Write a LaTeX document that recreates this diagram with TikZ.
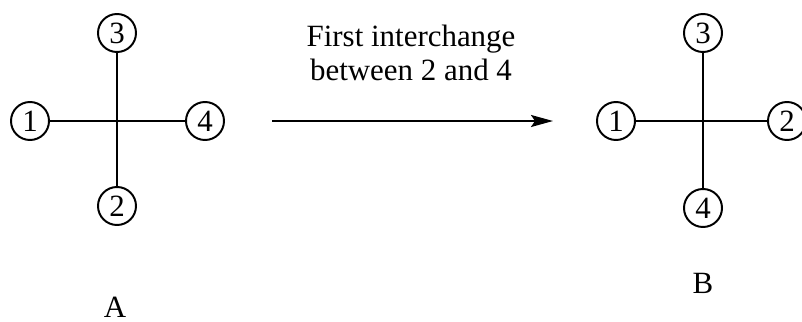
\documentclass[tikz,border=0pt]{standalone}
\usepackage{fontspec}
\setmainfont{Liberation Serif}
\usetikzlibrary{arrows.meta,positioning}

\begin{document}
\begin{tikzpicture}[
  x=0.025cm,y=-0.025cm,
  site/.style={draw,circle,line width=1.4pt,minimum size=0.95cm,inner sep=0pt,font=\fontsize{22}{25}\selectfont},
  bond/.style={line width=1.4pt},
  caption/.style={inner sep=0pt,font=\fontsize{22}{25}\selectfont}
]
\useasboundingbox (0,0) rectangle (802,322);
% configuration A
\node[site] (a3) at (117,33) {3};
\node[site] (a1) at (30,121) {1};
\node[site] (a4) at (205,121) {4};
\node[site] (a2) at (117,206) {2};
\draw[bond] (a1) -- (a4);
\draw[bond] (a3) -- (a2);
\node[caption,anchor=base] (labA) at (115,317) {A};
% interchange arrow
\coordinate (from) at (272,121);
\coordinate (to) at (553,121);
\draw[bond,-{Stealth[length=0.55cm,width=0.3cm,inset=0.1cm]}] (from) -- (to);
\node[caption,anchor=north,align=center] (swap) at (411,24.5) {First interchange\\[-0.5pt]between 2 and 4};
% configuration B
\node[site] (b3) at (703,33) {3};
\node[site] (b1) at (616,121) {1};
\node[site] (b2) at (787,121) {2};
\node[site] (b4) at (703,208) {4};
\draw[bond] (b1) -- (b2);
\draw[bond] (b3) -- (b4);
\node[caption,anchor=base] (labB) at (703,293) {B};
\end{tikzpicture}
\end{document}
